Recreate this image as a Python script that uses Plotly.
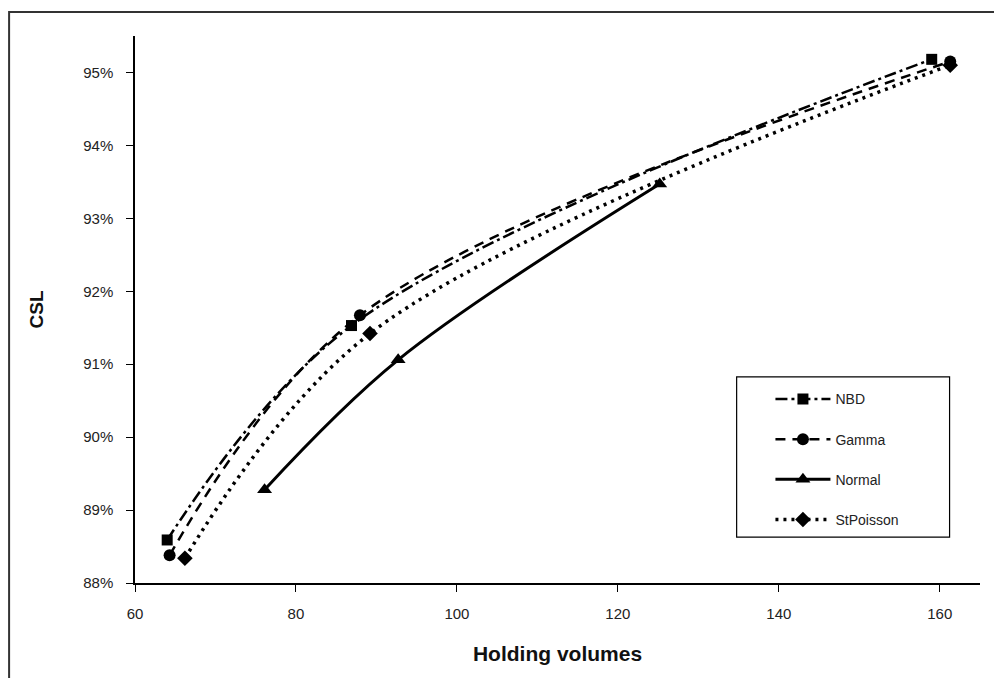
import plotly.graph_objects as go

series_names = ["NBD", "Gamma", "Normal", "StPoisson"]
nbd_x = [64.0, 86.9, 159.0]
nbd_y = [0.8859, 0.9153, 0.9518]
gamma_x = [64.3, 87.95, 161.3]
gamma_y = [0.8838, 0.9167, 0.9515]
normal_x = [76.1, 92.7, 125.2]
normal_y = [0.8928, 0.9106, 0.9347]
stpoisson_x = [66.2, 89.2, 161.3]
stpoisson_y = [0.8834, 0.9142, 0.9510]

x_ticks = [60, 80, 100, 120, 140, 160]
y_ticks = [0.88, 0.89, 0.90, 0.91, 0.92, 0.93, 0.94, 0.95]

styles = {
    "NBD": dict(dash="12px,4px,3px,4px", width=2.5, symbol="square", size=11),
    "Gamma": dict(dash="10px,7px", width=2.5, symbol="circle", size=12),
    "Normal": dict(dash="solid", width=3, symbol="triangle-up", size=13),
    "StPoisson": dict(dash="3px,5px", width=3.5, symbol="diamond", size=12),
}
data = {
    "NBD": (nbd_x, nbd_y),
    "Gamma": (gamma_x, gamma_y),
    "Normal": (normal_x, normal_y),
    "StPoisson": (stpoisson_x, stpoisson_y),
}

fig = go.Figure()
for name in series_names:
    xs, ys = data[name]
    s = styles[name]
    fig.add_trace(go.Scatter(
        x=xs, y=ys, name=name, mode="lines+markers",
        line=dict(color="black", width=s["width"], dash=s["dash"], shape="spline", smoothing=1),
        marker=dict(symbol=s["symbol"], size=s["size"], color="black"),
        legendgroup=name,
    ))

fig.update_layout(
    width=1002, height=678,
    margin=dict(l=127, r=30, t=28, b=103),
    paper_bgcolor="white", plot_bgcolor="white",
    font=dict(family="Arial, Liberation Sans, sans-serif", color="#111"),
    showlegend=True,
    legend=dict(
        x=0.752, y=0.365, xanchor="left", yanchor="top",
        bgcolor="rgba(0,0,0,0)", borderwidth=0,
        font=dict(size=14, color="#222"),
        itemwidth=55, traceorder="grouped", tracegroupgap=19,
    ),
    xaxis=dict(
        range=[60, 165], tickvals=x_ticks, ticks="outside", ticklen=7,
        tickcolor="black", showline=True, linecolor="black", linewidth=1.5,
        showgrid=False, zeroline=False, tickfont=dict(size=15, color="#222"),
        ticklabelstandoff=9,
        title=dict(text="<b>Holding volumes</b>", font=dict(size=21, color="#111"), standoff=26),
    ),
    yaxis=dict(
        range=[0.88, 0.955], tickvals=y_ticks, tickformat=".0%", ticks="outside",
        ticklen=7, tickcolor="black", showline=True, linecolor="black", linewidth=1.5,
        showgrid=False, zeroline=False, tickfont=dict(size=15, color="#222"),
        ticklabelstandoff=10,
        title=dict(text="<b>CSL</b>", font=dict(size=19, color="#111"), standoff=35),
    ),
    shapes=[
        dict(type="rect", xref="paper", yref="paper", x0=-0.149, x1=1.1, y0=-0.3, y1=1.044,
             line=dict(color="#333", width=2), fillcolor="rgba(0,0,0,0)", layer="below"),
        dict(type="rect", xref="paper", yref="paper", x0=0.712, x1=0.964, y0=0.084, y1=0.377,
             line=dict(color="black", width=1.2), fillcolor="rgba(0,0,0,0)"),
    ],
)

fig.write_html("out.html")
